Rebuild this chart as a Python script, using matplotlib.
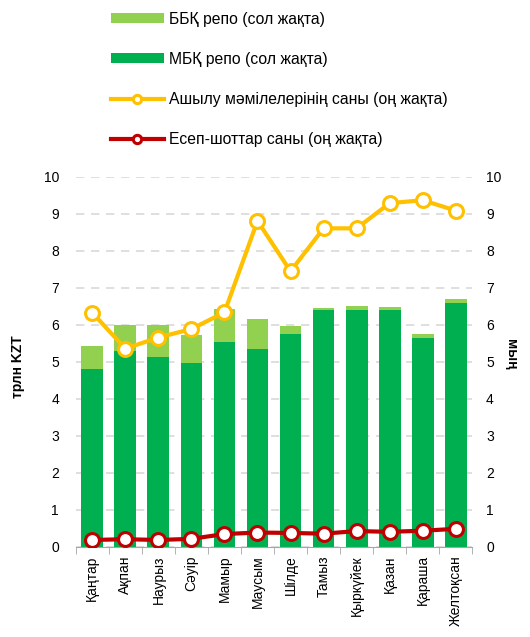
import numpy as np
import matplotlib.pyplot as plt

plt.rcParams['font.family'] = ['Liberation Sans', 'DejaVu Sans']

# айлар
months = ['Қаңтар', 'Ақпан', 'Наурыз', 'Сәуір', 'Мамыр', 'Маусым', 'Шілде',
          'Тамыз', 'Қыркүйек', 'Қазан', 'Қараша', 'Желтоқсан']

# МБҚ репо (трлн KZT)
mbk_repo = [4.81, 5.29, 5.14, 4.96, 5.55, 5.36, 5.76, 6.39, 6.41, 6.39, 5.66, 6.60]
# жиынтық (МБҚ + ББҚ)
total_repo = [5.43, 6.01, 6.01, 5.73, 6.43, 6.15, 5.97, 6.47, 6.51, 6.49, 5.76, 6.71]
bbk_repo = [t - m for t, m in zip(total_repo, mbk_repo)]

# мың
deals = [6.33, 5.36, 5.66, 5.89, 6.34, 8.81, 7.45, 8.61, 8.61, 9.29, 9.37, 9.09]
accounts = [0.19, 0.21, 0.19, 0.22, 0.35, 0.39, 0.38, 0.36, 0.43, 0.41, 0.44, 0.49]

fig = plt.figure(figsize=(5.3, 6.37), dpi=100)
ax = fig.add_axes([0.143, 0.1413, 0.748, 0.581])
ax2 = ax.twinx()

x = np.arange(len(months))
b1 = ax.bar(x, mbk_repo, width=0.66, color='#00B050', zorder=2)
b2 = ax.bar(x, bbk_repo, bottom=mbk_repo, width=0.66, color='#92D050', zorder=2)

l1, = ax2.plot(x, deals, color='#FFC000', lw=3, marker='o', ms=10,
               mfc='white', mec='#FFC000', mew=2.2, zorder=3)
l2, = ax2.plot(x, accounts, color='#C00000', lw=3, marker='o', ms=10,
               mfc='white', mec='#C00000', mew=2.2, zorder=3)

for a in (ax, ax2):
    a.set_ylim(0, 10)
    a.set_yticks(range(11))
    a.tick_params(axis='y', length=0, labelsize=10, pad=12)
    for s in ('left', 'right', 'top'):
        a.spines[s].set_visible(False)
ax2.spines['bottom'].set_visible(False)
ax2.tick_params(axis='y', pad=10)

ax.set_xlim(-0.5, len(months) - 0.5)
ax.yaxis.grid(True, color='#D9D9D9', ls=(0, (5, 4)), lw=1.2, zorder=0)
ax.set_axisbelow(True)

ax.spines['bottom'].set_color('#A6A6A6')
ax.set_xticks(x)
ax.set_xticklabels(months, rotation=90, fontsize=10)
ax.set_xticks(np.arange(-0.5, len(months)), minor=True)
ax.tick_params(axis='x', which='major', length=0, pad=6)
ax.tick_params(axis='x', which='minor', length=5, color='#A6A6A6')

ax.set_ylabel('трлн KZT', fontsize=10, fontweight='bold')
ax.yaxis.set_label_coords(-0.128, 0.486)
ax2.set_ylabel('мың', fontsize=10, fontweight='bold', rotation=-90, va='center')
ax2.yaxis.set_label_coords(1.098, 0.52)

fig.legend([b2, b1, l1, l2],
           ['ББҚ репо (сол жақта)', 'МБҚ репо (сол жақта)',
            'Ашылу мәмілелерінің саны (оң жақта)', 'Есеп-шоттар саны (оң жақта)'],
           loc='upper left', bbox_to_anchor=(0.182, 1.004), frameon=False,
           fontsize=11.3, handlelength=3.4, labelspacing=1.6, handletextpad=0.3,
           handleheight=0.55, markerscale=0.6)

fig.savefig('out.png', dpi=100)
